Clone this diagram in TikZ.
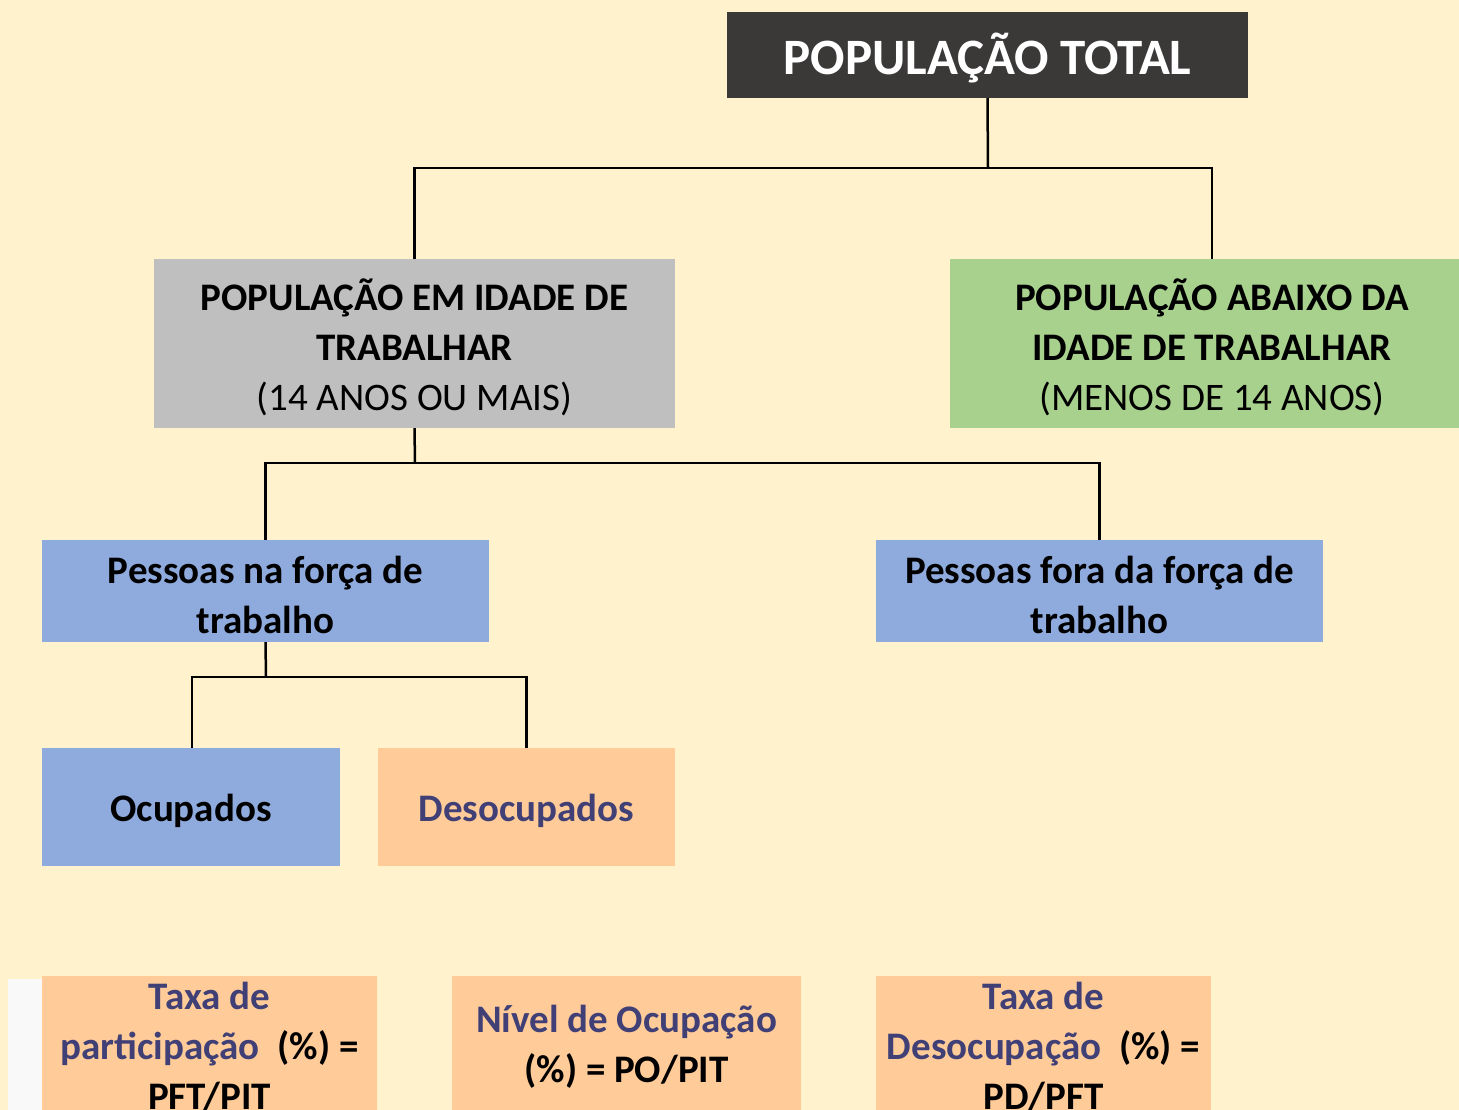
\documentclass[tikz,border=0pt]{standalone}
\usepackage{fontspec}
\setmainfont{Carlito}
\definecolor{bg}{HTML}{FFF2CC}
\definecolor{dark}{HTML}{3B3838}
\definecolor{grayb}{HTML}{BFBFBF}
\definecolor{greenb}{HTML}{A9D18E}
\definecolor{blueb}{HTML}{8FAADC}
\definecolor{peach}{HTML}{FFCC99}
\definecolor{purp}{RGB}{64,64,118}
\definecolor{strip}{HTML}{F9F9F9}
\newcommand{\lw}[1]{\raisebox{-3.5pt}[\height][\depth]{#1}}
\tikzset{
  box/.style={inner sep=0pt, align=center, font=\fontsize{39}{50}\selectfont\bfseries},
  conn/.style={draw=black, line width=2.5pt}
}
\begin{document}
\begin{tikzpicture}[x=1pt,y=-1pt]
\useasboundingbox (0,0) rectangle (1459,1110);
\clip (0,0) rectangle (1459,1110);
\fill[bg] (0,0) rectangle (1459,1110);
\fill[strip] (8,979) rectangle (42,1110);

\node[box, fill=dark, text=white, minimum width=521pt, minimum height=86pt,
      font=\fontsize{51}{60}\selectfont\bfseries] (top) at (987.5,55) {\lw{POPULAÇÃO TOTAL}};
\node[box, fill=grayb, minimum width=521pt, minimum height=169pt] (left) at (414.5,343.5)
  {\lw{POPULAÇÃO EM IDADE DE}\\\lw{TRABALHAR}\\\mdseries\lw{(14 ANOS OU MAIS)}};
\node[box, fill=greenb, minimum width=524pt, minimum height=169pt] (right) at (1212,343.5)
  {\lw{POPULAÇÃO ABAIXO DA}\\\lw{IDADE DE TRABALHAR}\\\mdseries\lw{(MENOS DE 14 ANOS)}};
\node[box, fill=blueb, minimum width=447pt, minimum height=102pt] (bl) at (265.5,591)
  {\lw{Pessoas na força de}\\\lw{trabalho}};
\node[box, fill=blueb, minimum width=447pt, minimum height=102pt] (br) at (1099.5,591)
  {\lw{Pessoas fora da força de}\\\lw{trabalho}};
\node[box, fill=blueb, minimum width=298pt, minimum height=118pt] (ocu) at (191,807)
  {\lw{Ocupados}};
\node[box, fill=peach, text=purp, minimum width=297pt, minimum height=118pt] (deso) at (526.5,807)
  {\lw{Desocupados}};

\node[box, fill=peach, minimum width=335pt, minimum height=142pt] (tp) at (209.5,1047)
  {\textcolor{purp}{Taxa de}\\\textcolor{purp}{participação}\ \ (\%) =\\PFT/PIT};
\node[box, fill=peach, minimum width=349pt, minimum height=142pt] (no) at (626.5,1047)
  {\textcolor{purp}{Nível de Ocupação}\\(\%) = PO/PIT};
\node[box, fill=peach, minimum width=335pt, minimum height=142pt] (td) at (1043.5,1047)
  {\textcolor{purp}{Taxa de}\\\textcolor{purp}{Desocupação}\ \ (\%) =\\PD/PFT};

\coordinate (j1) at (988,168);
\coordinate (j2) at (415,463);
\coordinate (j3) at (266,677);
\draw[conn] (top.south) -- (j1);
\draw[conn] (left.north) |- (j1) -| (right.north);
\draw[conn] (left.south) -- (j2);
\draw[conn] (bl.north) |- (j2) -| (br.north);
\draw[conn] (bl.south) -- (j3);
\draw[conn] ([xshift=1pt]ocu.north) |- (j3) -| (deso.north);
\end{tikzpicture}
\end{document}
